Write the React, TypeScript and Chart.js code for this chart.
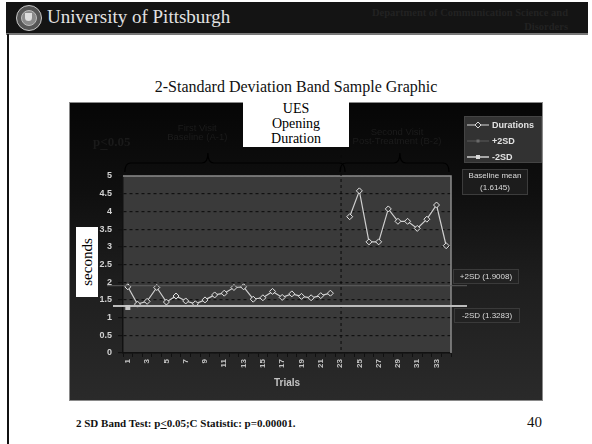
import { useEffect, useRef } from "react";
import { Chart, registerables } from "chart.js";

Chart.register(...registerables);

// ---- data ----
const trials = ["1","2","3","4","5","6","7","8","9","10","11","12","13","14","15","16","17","18","19","20","21","22","23","24","25","26","27","28","29","30","31","32","33","34"];
const durations: (number | null)[] = [1.87,1.38,1.46,1.85,1.44,1.61,1.47,1.39,1.5,1.64,1.69,1.85,1.87,1.52,1.56,1.74,1.57,1.67,1.6,1.56,1.62,1.69,null,3.85,4.58,3.14,3.14,4.07,3.72,3.72,3.52,3.78,4.18,3.03];
const baselineMean = 1.6145;
const plus2SD = 1.9008;
const minus2SD = 1.3283;
const phaseBreakIndex = 22; // trial 23
const phaseLabels = [["First Visit", "Baseline (A-1)"], ["Second Visit", "Post-Treatment (B-2)"]];
const legendLabels = ["Durations", "+2SD", "-2SD"];
const seriesTitle = ["UES", "Opening", "Duration"];

const SANS = "'Liberation Sans', Arial, sans-serif";
const SERIF = "'Liberation Serif', 'Times New Roman', serif";

function drawBrace(ctx: CanvasRenderingContext2D, x0: number, xt: number, x1: number, yTop: number, yMid: number, yEnd: number) {
  const r = 6;
  ctx.beginPath();
  ctx.moveTo(x0, yEnd);
  ctx.quadraticCurveTo(x0, yMid, x0 + r, yMid);
  ctx.lineTo(xt - r, yMid);
  ctx.quadraticCurveTo(xt, yMid, xt, yTop);
  ctx.quadraticCurveTo(xt, yMid, xt + r, yMid);
  ctx.lineTo(x1 - r, yMid);
  ctx.quadraticCurveTo(x1, yMid, x1, yEnd);
  ctx.stroke();
}

const decor = {
  id: "decor",
  beforeDraw(chart: any) {
    const { ctx, chartArea: ca, width, height } = chart;
    ctx.save();
    const g = ctx.createLinearGradient(0, 0, 0, height);
    g.addColorStop(0, "#060606");
    g.addColorStop(0.3, "#0f0f0f");
    g.addColorStop(0.6, "#1e1e1e");
    g.addColorStop(1, "#2a2a2a");
    ctx.fillStyle = g;
    ctx.fillRect(0, 0, width, height);
    ctx.fillStyle = "#3a3a3a";
    ctx.fillRect(ca.left, ca.top, ca.right - ca.left, ca.bottom - ca.top);
    ctx.restore();
  },
  afterDatasetsDraw(chart: any) {
    const { ctx, chartArea: ca, width, height, scales } = chart;
    const x = scales.x, y = scales.y;
    ctx.save();
    // plot frame (top & right)
    ctx.strokeStyle = "#8c8c8c";
    ctx.lineWidth = 1.5;
    ctx.beginPath();
    ctx.moveTo(ca.left, ca.top);
    ctx.lineTo(ca.right, ca.top);
    ctx.lineTo(ca.right, ca.bottom);
    ctx.stroke();

    // phase change dashed line
    const xb = x.getPixelForValue(phaseBreakIndex) + 1;
    ctx.strokeStyle = "#0a0a0a";
    ctx.lineWidth = 1;
    ctx.setLineDash([3, 3]);
    ctx.beginPath();
    ctx.moveTo(xb, 53);
    ctx.lineTo(xb, ca.bottom);
    ctx.stroke();
    ctx.setLineDash([]);

    // +2SD / -2SD lines (extend beyond plot)
    const yp = y.getPixelForValue(plus2SD);
    const ym = y.getPixelForValue(minus2SD);
    ctx.strokeStyle = "#5e5e5e";
    ctx.lineWidth = 1;
    ctx.beginPath();
    ctx.moveTo(38, yp);
    ctx.lineTo(ca.right + 16, yp);
    ctx.stroke();
    ctx.strokeStyle = "#bdbdbd";
    ctx.lineWidth = 2;
    ctx.beginPath();
    ctx.moveTo(44, ym);
    ctx.lineTo(ca.right + 16, ym);
    ctx.stroke();
    // -2SD marker at first trial
    const x0 = x.getPixelForValue(0);
    ctx.fillStyle = "#c8c8c8";
    ctx.fillRect(x0 - 2.5, ym - 1, 5, 5);

    // braces
    ctx.strokeStyle = "#000";
    ctx.lineWidth = 1.2;
    const half = (x.getPixelForValue(1) - x.getPixelForValue(0)) / 2;
    drawBrace(ctx, x0 - 3, x.getPixelForValue(8.3), xb + 4, 51, 61, 70);
    drawBrace(ctx, xb - 1, x.getPixelForValue(28.2), ca.right - 2, 51, 61, 70);

    // phase labels (very dark)
    ctx.fillStyle = "#1c1c1c";
    ctx.font = `9.5px ${SANS}`;
    ctx.textAlign = "center";
    ctx.textBaseline = "middle";
    const c1 = x.getPixelForValue(7.2);
    ctx.fillText(phaseLabels[0][0], c1, 26);
    ctx.fillText(phaseLabels[0][1], c1, 35);
    const c2 = x.getPixelForValue(27.4) + half;
    ctx.fillText(phaseLabels[1][0], c2, 30);
    ctx.fillText(phaseLabels[1][1], c2, 39);

    // p<0.05 (dark)
    ctx.fillStyle = "#1a1a1a";
    ctx.font = `bold 13px ${SERIF}`;
    ctx.textAlign = "left";
    ctx.fillText("p<0.05", 24, 41);
    const pw = ctx.measureText("p").width;
    const lw = ctx.measureText("<").width;
    ctx.fillRect(24 + pw, 47, lw, 1);

    // legend box
    ctx.fillStyle = "#323232";
    ctx.fillRect(395, 14, 78, 47);
    ctx.strokeStyle = "#444";
    ctx.lineWidth = 1;
    ctx.strokeRect(395.5, 14.5, 77, 46);
    const ly = [23, 39, 55];
    ctx.font = `bold 9px ${SANS}`;
    ctx.textBaseline = "middle";
    // Durations
    ctx.strokeStyle = "#d8d8d8";
    ctx.lineWidth = 1;
    ctx.beginPath(); ctx.moveTo(398, ly[0]); ctx.lineTo(420, ly[0]); ctx.stroke();
    ctx.fillStyle = "#323232";
    ctx.beginPath();
    ctx.moveTo(409, ly[0] - 3); ctx.lineTo(412, ly[0]); ctx.lineTo(409, ly[0] + 3); ctx.lineTo(406, ly[0]); ctx.closePath();
    ctx.fill(); ctx.stroke();
    // +2SD
    ctx.strokeStyle = "#5a5a5a";
    ctx.beginPath(); ctx.moveTo(398, ly[1]); ctx.lineTo(420, ly[1]); ctx.stroke();
    ctx.fillStyle = "#6a6a6a";
    ctx.fillRect(407.5, ly[1] - 1.5, 3, 3);
    // -2SD
    ctx.strokeStyle = "#d0d0d0";
    ctx.lineWidth = 1.5;
    ctx.beginPath(); ctx.moveTo(398, ly[2]); ctx.lineTo(420, ly[2]); ctx.stroke();
    ctx.fillStyle = "#d8d8d8";
    ctx.fillRect(407, ly[2] - 2, 4, 4);
    ctx.fillStyle = "#e2e2e2";
    legendLabels.forEach((t, i) => ctx.fillText(t, 423, ly[i] + 0.5));

    // baseline mean box
    ctx.fillStyle = "#1c1c1c";
    ctx.fillRect(393, 67, 66, 26);
    ctx.strokeStyle = "#3c3c3c";
    ctx.lineWidth = 1;
    ctx.strokeRect(393.5, 67.5, 65, 25);
    ctx.fillStyle = "#dcdcdc";
    ctx.font = `8px ${SANS}`;
    ctx.textAlign = "center";
    ctx.fillText("Baseline mean", 426, 74);
    ctx.fillText(`(${baselineMean.toFixed(4)})`, 426, 86);

    // SD label boxes
    const sdBox = (label: string, val: number, bx: number, by: number) => {
      ctx.fillStyle = "#222";
      ctx.fillRect(bx, by, 66, 15);
      ctx.strokeStyle = "#3a3a3a";
      ctx.strokeRect(bx + 0.5, by + 0.5, 65, 14);
      ctx.fillStyle = "#dcdcdc";
      ctx.fillText(`${label} (${val.toFixed(4)})`, bx + 33, by + 8);
    };
    sdBox("+2SD", plus2SD, 384, 167);
    sdBox("-2SD", minus2SD, 385, 206);

    // panel border
    ctx.strokeStyle = "#8a8a8a";
    ctx.lineWidth = 1;
    ctx.strokeRect(0.5, 0.5, width - 1, height - 1);
    ctx.restore();
  },
};

export default function App() {
  const ref = useRef<HTMLCanvasElement | null>(null);
  useEffect(() => {
    if (!ref.current) return;
    const chart = new Chart(ref.current, {
      type: "line",
      data: {
        labels: trials,
        datasets: [
          {
            label: legendLabels[0],
            data: durations,
            borderColor: "#cfcfcf",
            borderWidth: 1.2,
            pointStyle: "rectRot",
            pointRadius: 3,
            pointBorderWidth: 1,
            pointBorderColor: "#e4e4e4",
            pointBackgroundColor: "#3a3a3a",
            spanGaps: false,
            tension: 0,
          },
        ],
      },
      options: {
        animation: false,
        responsive: false,
        maintainAspectRatio: false,
        layout: { padding: { left: 0, right: 92, top: 74, bottom: 0 } },
        plugins: { legend: { display: false }, tooltip: { enabled: false }, title: { display: false } },
        scales: {
          x: {
            type: "category",
            offset: true,
            grid: { display: true, drawOnChartArea: false, drawTicks: true, tickLength: 4, color: "#111", offset: true },
            border: { display: true, color: "#111", width: 1.5 },
            ticks: {
              autoSkip: false,
              maxRotation: 90,
              minRotation: 90,
              color: "#c4c4c4",
              padding: 2,
              font: { family: SANS, size: 8, weight: "bold" },
              callback: (_v: any, i: number) => (i % 2 === 0 ? trials[i] : ""),
            },
            title: { display: true, text: "Trials", color: "#c4c4c4", font: { family: SANS, size: 10, weight: "bold" }, padding: { top: 0, bottom: 12 } },
            afterFit: (s: any) => { s.height = 48; },
          },
          y: {
            min: 0,
            max: 5,
            ticks: {
              stepSize: 0.5,
              color: "#d2d2d2",
              padding: 6,
              font: { family: SANS, size: 9, weight: "bold" },
              callback: (v: any) => String(Number(v)),
            },
            grid: { color: "#111", lineWidth: 1.2, tickLength: 5, drawTicks: true },
            border: { display: true, color: "#111", width: 1.5, dash: [3, 3] },
            afterFit: (s: any) => { s.width = 54; },
          },
        },
      },
      plugins: [decor],
    } as any);
    return () => chart.destroy();
  }, []);

  return (
    <div style={{ position: "fixed", left: 0, top: 0, width: 592, height: 444, background: "#fff", overflow: "hidden" }}>
      {/* header */}
      <div style={{ position: "absolute", left: 6, top: 2, width: 582, height: 31, background: "#141414", borderBottom: "2px solid #777" }} />
      <div style={{ position: "absolute", left: 7, top: 34, width: 2, height: 410, background: "#111" }} />
      {/* logo */}
      <div style={{ position: "absolute", left: 16, top: 5, width: 24, height: 24, borderRadius: "50%", border: "1.5px solid #c8c8c8", background: "#555" }} />
      <div style={{ position: "absolute", left: 21, top: 10, width: 14, height: 14, borderRadius: "50%", border: "1px solid #bbb", background: "#8a8a8a" }} />
      <div style={{ position: "absolute", left: 25, top: 13, width: 7, height: 8, borderRadius: "0 0 4px 4px", background: "#ddd" }} />
      <div style={{ position: "absolute", left: 47, top: 5, fontFamily: SERIF, fontSize: 19, color: "#e2e2e2", whiteSpace: "nowrap", lineHeight: "24px" }}>
        University of Pittsburgh
      </div>
      <div style={{ position: "absolute", right: 24, top: 6, fontFamily: SERIF, fontWeight: "bold", fontSize: 10.5, color: "#222", textAlign: "right", lineHeight: "14px", whiteSpace: "nowrap" }}>
        Department of Communication Science and<br />Disorders
      </div>
      {/* slide title */}
      <div style={{ position: "absolute", left: 0, width: 592, top: 78, textAlign: "center", fontFamily: SERIF, fontSize: 16, color: "#111", lineHeight: "18px" }}>
        2-Standard Deviation Band Sample Graphic
      </div>
      {/* chart */}
      <canvas ref={ref} width={474} height={299} style={{ position: "absolute", left: 69, top: 102, width: 474, height: 299 }} />
      {/* series title box */}
      <div style={{ position: "absolute", left: 243, top: 99, width: 106, height: 48, background: "#fff", fontFamily: SERIF, fontSize: 14, lineHeight: "15px", textAlign: "center", color: "#000", paddingTop: 2, boxSizing: "border-box" }}>
        {seriesTitle.map((t) => (<div key={t}>{t}</div>))}
      </div>
      {/* seconds box */}
      <div style={{ position: "absolute", left: 76, top: 227, width: 22, height: 70, background: "#fff" }}>
        <div style={{ position: "absolute", left: 11, top: 35, transform: "translate(-50%, -50%) rotate(-90deg)", fontFamily: SERIF, fontSize: 15, color: "#000", whiteSpace: "nowrap", lineHeight: "16px" }}>
          seconds
        </div>
      </div>
      {/* footer */}
      <div style={{ position: "absolute", left: 76, top: 417, fontFamily: SERIF, fontWeight: "bold", fontSize: 11, color: "#111", whiteSpace: "nowrap" }}>
        2 SD Band Test: p<u>&lt;</u>0.05;C Statistic: p=0.00001.
      </div>
      <div style={{ position: "absolute", left: 527, top: 414, fontFamily: SERIF, fontSize: 15, color: "#111" }}>40</div>
    </div>
  );
}
